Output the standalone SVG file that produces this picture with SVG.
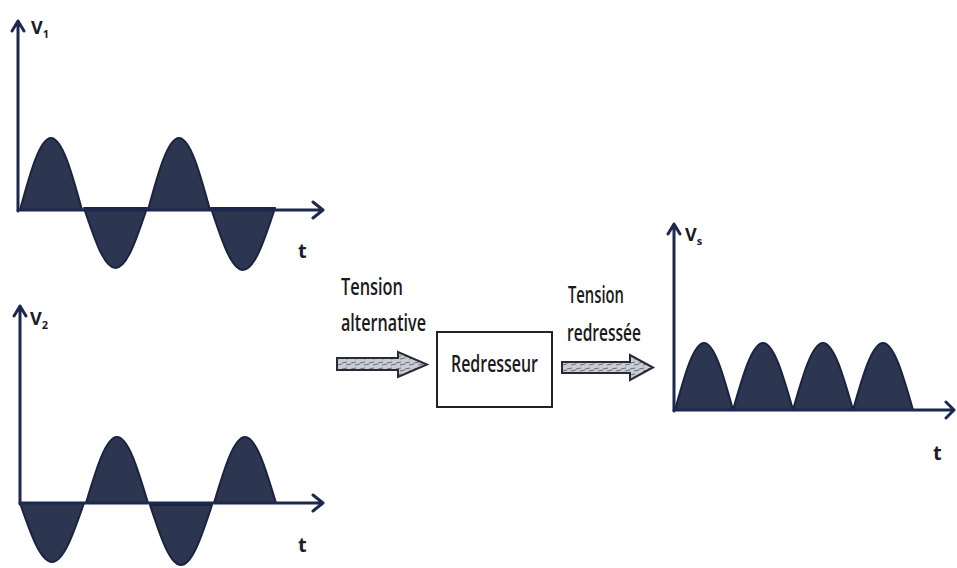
<svg xmlns="http://www.w3.org/2000/svg" width="957" height="568" viewBox="0 0 957 568">
<style>
.axis{fill:none;stroke:#1d2850;stroke-width:3;stroke-linecap:round;stroke-linejoin:round}
.hump{fill:#2d3650;stroke:#1a2340;stroke-width:2;stroke-linejoin:round}
.lbl{font-family:"Open Sans","Liberation Sans",sans-serif;font-weight:700;fill:#1a1c28}
.txt{font-family:"Open Sans","Liberation Sans",sans-serif;font-weight:600;font-size:23px;fill:#1a1a1a}
.barrow{fill:url(#hatch);stroke:#2a2a30;stroke-width:2;stroke-linejoin:miter}
</style>
<defs>
<pattern id="hatch" patternUnits="userSpaceOnUse" width="9" height="6">
<rect width="9" height="6" fill="#c9ccd4"/>
<path d="M0,3 L5,2 M4,5 L9,4" stroke="#6a6e7c" stroke-width="1"/>
</pattern>
</defs>

<g id="graph-v1">
<path class="hump" d="M20,210 C30.1,173.1 39.8,138 51,138 C62.2,138 71.9,173.1 82,210 Z"/>
<path class="hump" d="M84,208 C94.3,238.7 104.1,268 115.5,268 C126.9,268 136.7,238.7 147,208 Z"/>
<path class="hump" d="M148,210 C158.1,173.1 167.8,138 179,138 C190.2,138 199.9,173.1 210,210 Z"/>
<path class="hump" d="M211,208 C221.4,239.8 231.4,270 243,270 C254.6,270 264.6,239.8 275,208 Z"/>
<path class="axis" d="M18,211 L18,21 M12,31 L18,21 L24,31"/>
<path class="axis" d="M18,210 L323,210 M313,202 L323,210 L313,218"/>
<text class="lbl" x="31" y="34" font-size="18">V<tspan font-size="11" dy="4">1</tspan></text>
<text class="lbl" x="298" y="258" font-size="20">t</text>
</g>

<g id="graph-v2">
<path class="hump" d="M20,503 C30.4,533.2 40.4,562 52,562 C63.6,562 73.6,533.2 84,503 Z"/>
<path class="hump" d="M86,503 C96.1,469.2 105.8,437 117,437 C128.2,437 137.9,469.2 148,503 Z"/>
<path class="hump" d="M150,505 C160.1,535.7 169.8,565 181,565 C192.2,565 201.9,535.7 212,505 Z"/>
<path class="hump" d="M214,503 C224.1,469.2 233.8,437 245,437 C256.2,437 265.9,469.2 276,503 Z"/>
<path class="axis" d="M20,504 L20,306 M14,316 L20,306 L26,316"/>
<path class="axis" d="M20,503 L323,503 M313,495 L323,503 L313,511"/>
<text class="lbl" x="30" y="325" font-size="18">V<tspan font-size="11" dy="4">2</tspan></text>
<text class="lbl" x="298" y="552" font-size="20">t</text>
</g>

<g id="label-in">
<text class="txt" x="341" y="295" textLength="62" lengthAdjust="spacingAndGlyphs">Tension</text>
<text class="txt" x="341" y="331" textLength="85" lengthAdjust="spacingAndGlyphs">alternative</text>
</g>

<g id="redresseur">
<rect x="437" y="332" width="115" height="75" fill="#ffffff" stroke="#222228" stroke-width="2"/>
<text class="txt" x="494.5" y="372" text-anchor="middle" textLength="87" lengthAdjust="spacingAndGlyphs">Redresseur</text>
</g>

<g id="label-out">
<text class="txt" x="568" y="303" font-size="21" textLength="56" lengthAdjust="spacingAndGlyphs">Tension</text>
<text class="txt" x="567" y="341" font-size="21" textLength="74" lengthAdjust="spacingAndGlyphs">redressée</text>
</g>

<g id="connectors">
<path class="barrow" d="M337,358 L398,358 L398,352 L427,364.5 L398,377 L398,370 L337,370 Z"/>
<path class="barrow" d="M562,362 L630,362 L630,355 L653,367.5 L630,380 L630,373 L562,373 Z"/>
</g>

<g id="graph-vs">
<path class="hump" d="M675,410 C684.5,375.7 693.5,343 704,343 C714.5,343 723.5,375.7 733,410 Z"/>
<path class="hump" d="M733,410 C742.8,375.7 752.1,343 763,343 C773.9,343 783.2,375.7 793,410 Z"/>
<path class="hump" d="M793,410 C802.8,375.7 812.1,343 823,343 C833.9,343 843.2,375.7 853,410 Z"/>
<path class="hump" d="M853,410 C862.8,375.7 872.1,343 883,343 C893.9,343 903.2,375.7 913,410 Z"/>
<path class="axis" d="M674,411 L674,224 M668,234 L674,224 L680,234"/>
<path class="axis" d="M674,410 L954,410 M946,402 L954,410 L946,418"/>
<text class="lbl" x="685" y="241" font-size="18">V<tspan font-size="11" dy="4">s</tspan></text>
<text class="lbl" x="933" y="460" font-size="20">t</text>
</g>
</svg>
